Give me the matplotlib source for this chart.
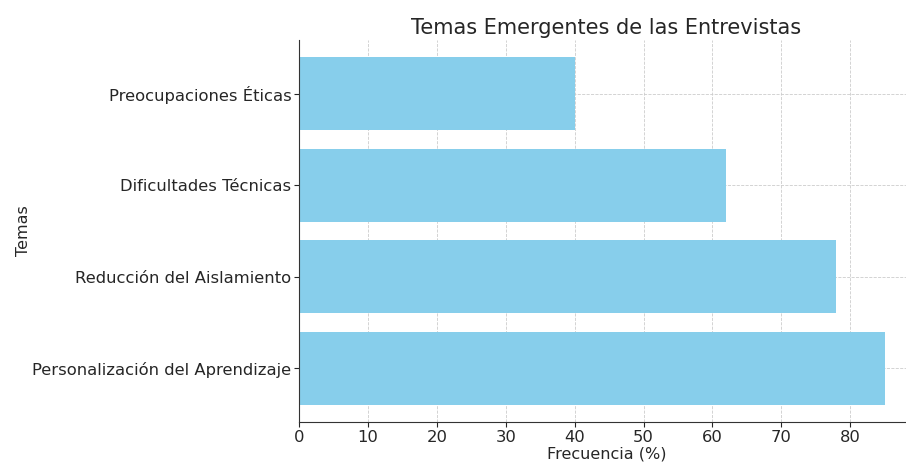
import matplotlib.pyplot as plt

temas = ["Personalización del Aprendizaje", "Reducción del Aislamiento",
         "Dificultades Técnicas", "Preocupaciones Éticas"]
frecuencia = [85, 78, 62, 40]

plt.rcParams['text.color'] = '#262626'
plt.rcParams['axes.labelcolor'] = '#262626'
plt.rcParams['xtick.color'] = '#262626'
plt.rcParams['ytick.color'] = '#262626'

fig = plt.figure(figsize=(9.06, 4.66), dpi=100)
ax = fig.add_axes([299/906, 44/466, 615/906, 382/466])
ax.barh(temas, frecuencia, color="skyblue", zorder=2)
ax.set_title("Temas Emergentes de las Entrevistas", fontsize=15, pad=4)
ax.set_xlabel("Frecuencia (%)", fontsize=11.5, labelpad=1)
ax.set_ylabel("Temas", fontsize=11.5, labelpad=1)
ax.tick_params(labelsize=11.8, length=3.5, pad=2)
ax.grid(True, linestyle="--", linewidth=0.6, color="#cccccc", zorder=0)
ax.spines["top"].set_visible(False)
ax.spines["right"].set_visible(False)
ax.spines["left"].set_color("#333333")
ax.spines["bottom"].set_color("#333333")

fig.savefig("out.png", dpi=100)
